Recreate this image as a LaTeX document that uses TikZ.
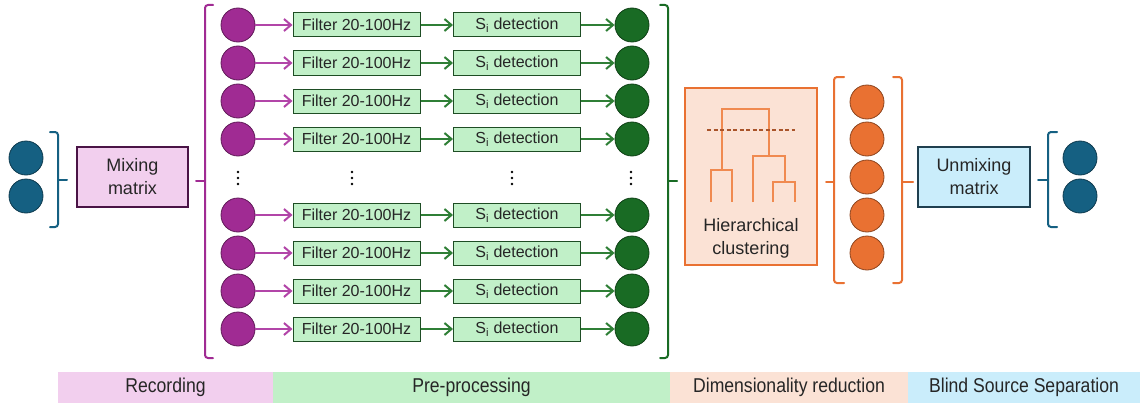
\documentclass[tikz,border=0pt]{standalone}
\usepackage{fontspec}
\setmainfont{Liberation Sans}
\newfontfamily\narrowfont[FakeStretch=0.88]{Liberation Sans}
\usetikzlibrary{arrows.meta}
\definecolor{txt}{HTML}{262626}
\definecolor{pinkbg}{HTML}{F2CFEE}
\definecolor{greenbg}{HTML}{C1F0C8}
\definecolor{orangebg}{HTML}{FBE2D5}
\definecolor{bluebg}{HTML}{CAEDFB}
\definecolor{purp}{HTML}{A02B93}
\definecolor{purpline}{HTML}{B245A8}
\definecolor{purpdark}{HTML}{4A1446}
\definecolor{dgreen}{HTML}{196B24}
\definecolor{garrow}{HTML}{2F7F36}
\definecolor{gborder}{HTML}{1E4D24}
\definecolor{orng}{HTML}{E97132}
\definecolor{orngline}{HTML}{F08A50}
\definecolor{orngdash}{HTML}{A9542A}
\definecolor{blu}{HTML}{156082}
\definecolor{bluborder}{HTML}{1F3F4F}
\begin{document}
\begin{tikzpicture}[x=1pt,y=-1pt,
  font=\fontsize{16}{19}\selectfont, text=txt,
  dot/.style={circle,minimum size=34pt,inner sep=0pt,draw=#1!60!black,line width=0.8pt},
  pc/.style={dot=purp,fill=purp},
  gc/.style={dot=dgreen,fill=dgreen},
  oc/.style={dot=orng,fill=orng},
  bc/.style={dot=blu,fill=blu},
  chainbox/.style={draw=gborder,fill=greenbg,line width=1pt,minimum width=127pt,minimum height=24pt,inner sep=0pt},
  parr/.style={draw=purpline,line width=2pt,-{Straight Barb[length=7pt,width=12pt]}},
  garr/.style={draw=garrow,line width=2pt,-{Straight Barb[length=7pt,width=12pt]}},
  brace/.style={line width=2pt,rounded corners=3pt,line cap=round},
  band/.style={minimum height=31pt,inner sep=0pt,font=\narrowfont\fontsize{20}{22}\selectfont},
  bigbox/.style={line width=1.2pt,align=center,font=\fontsize{18}{23}\selectfont},
  vdot/.style={circle,fill=black,inner sep=0pt,minimum size=2.6pt}
]
\useasboundingbox (0,0) rectangle (1140,404);

% left sources
\node[bc] (s1) at (26,158) {};
\node[bc] (s2) at (26,196) {};
\draw[brace,blu] (50,132) -- (58,132) -- (58,227) -- (50,227);
\draw[brace,blu] (58,180) -- (67,180);

\node[bigbox,draw=purpdark,fill=pinkbg,minimum width=111pt,minimum height=60pt] (mix) at (132.5,177) {Mixing\\matrix};

% purple brace
\draw[brace,purp] (213,5) -- (205,5) -- (205,358) -- (213,358);
\draw[brace,purp] (205,181) -- (196,181);

% rows
\foreach \y [count=\i] in {25,63,101,139,215,253,291,329} {
  \node[pc] (p\i) at (238,\y) {};
  \node[chainbox] (f\i) at (356.5,\y) {Filter 20-100Hz};
  \node[chainbox] (d\i) at (517,\y) {S\textsubscript{i} detection};
  \node[gc] (g\i) at (632,\y) {};
  \draw[parr] (p\i) -- (f\i);
  \draw[garr] (f\i) -- (d\i);
  \draw[garr] (d\i) -- (g\i);
}
% vertical ellipses
\foreach \x [count=\i] in {238,352,512,631} {
  \node[vdot] (va\i) at (\x,172) {};
  \node[vdot] (vb\i) at (\x,178) {};
  \node[vdot] (vc\i) at (\x,184) {};
}

% green brace
\draw[brace,dgreen] (660,5) -- (668,5) -- (668,358) -- (660,358);
\draw[brace,dgreen] (668,181) -- (677,181);

% hierarchical clustering
\node[draw=orng,fill=orangebg,line width=1.2pt,minimum width=132pt,minimum height=177pt] (hc) at (751,176.5) {};
\node[align=center,font=\fontsize{18}{23}\selectfont] (hct) at (751,238) {Hierarchical\\clustering};
\draw[orngline,line width=1.5pt]
  (711,202) -- (711,170) -- (732,170) -- (732,202)
  (722,170) -- (722,109) -- (769,109) -- (769,156)
  (753,202) -- (753,156) -- (785,156) -- (785,182)
  (773,202) -- (773,182) -- (795,182) -- (795,202);
\draw[orngdash,line width=1.3pt,dash pattern=on 4pt off 2.5pt] (707,130) -- (795,130);

% orange braces
\draw[brace,orng] (844,77) -- (834,77) -- (834,283) -- (844,283);
\draw[brace,orng] (834,182) -- (826,182);
\foreach \y [count=\i] in {102,139,177,215,253} {
  \node[oc] (o\i) at (867,\y) {};
}
\draw[brace,orng] (893,77) -- (902,77) -- (902,283) -- (893,283);
\draw[brace,orng] (902,182) -- (913,182);

% unmixing
\node[bigbox,draw=bluborder,fill=bluebg,minimum width=112pt,minimum height=60pt] (unmix) at (974,177) {Unmixing\\matrix};
\draw[brace,blu] (1057,132) -- (1048,132) -- (1048,227) -- (1057,227);
\draw[brace,blu] (1048,180) -- (1038,180);
\node[bc] (r1) at (1080,158) {};
\node[bc] (r2) at (1080,196) {};

% bottom bands
\node[band,fill=pinkbg,minimum width=215pt] (b1) at (165.5,387.5) {Recording};
\node[band,fill=greenbg,minimum width=397pt] (b2) at (471.5,387.5) {Pre-processing};
\node[band,fill=orangebg,minimum width=238pt] (b3) at (789,387.5) {Dimensionality reduction};
\node[band,fill=bluebg,minimum width=232pt] (b4) at (1024,387.5) {Blind Source Separation};
\end{tikzpicture}
\end{document}
